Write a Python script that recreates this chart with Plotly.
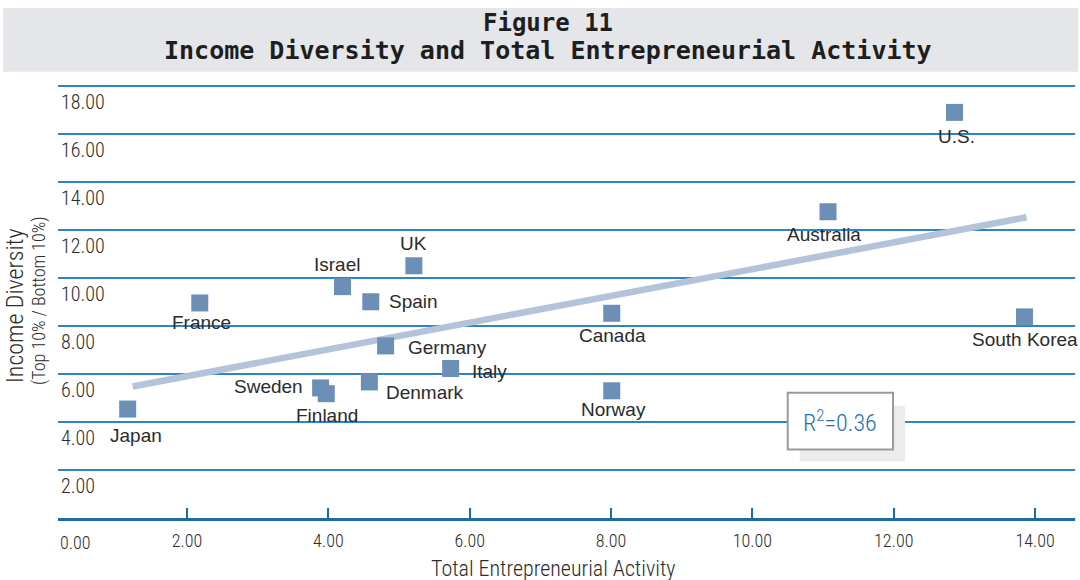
import plotly.graph_objects as go

# Data
countries = ["Japan", "France", "Israel", "UK", "Spain", "Germany", "Italy", "Sweden",
             "Finland", "Denmark", "Canada", "Norway", "Australia", "U.S.", "South Korea"]
tea = [1.16, 2.18, 4.20, 5.21, 4.60, 4.81, 5.73, 3.89,
       3.97, 4.58, 8.01, 8.01, 11.07, 12.86, 13.85]
income_div = [4.54, 8.96, 9.64, 10.51, 9.01, 7.17, 6.23, 5.42,
              5.18, 5.67, 8.53, 5.30, 12.76, 16.90, 8.38]
trend_x = [1.23, 13.88]
trend_y = [5.48, 12.53]
x_ticks = [2, 4, 6, 8, 10, 12, 14]
y_ticks = [2, 4, 6, 8, 10, 12, 14, 16, 18]
r_squared = 0.36

# Colours / fonts
_MARKER = "#6b8fb5"
_TREND = "#b4c3d9"
_GRID = "#3084bf"
_AXIS = "#1c6ca3"
_TEXT = "#2b2b2b"
_NARROW = "Roboto Condensed, Liberation Sans Narrow, Roboto, sans-serif"
_LABEL = "Liberation Sans, Arial, sans-serif"


def narrow(size, color=_TEXT):
    return dict(family=_NARROW, size=size, color=color, weight=300)


# label placement per country: (anchor, xshift, yshift)
label_pos = {
    "Japan": ("center", 8, -26), "France": ("center", 2, -20),
    "Israel": ("center", -6, 22), "UK": ("center", 0, 22),
    "Spain": ("left", 16, 0), "Germany": ("left", 20, -2),
    "Italy": ("left", 19, -3), "Sweden": ("right", -16, 1),
    "Finland": ("center", 1, -22), "Denmark": ("left", 15, -11),
    "Canada": ("center", 1, -22), "Norway": ("center", 2, -19),
    "Australia": ("center", -4, -23), "U.S.": ("center", 2, -24),
    "South Korea": ("center", 1, -23),
}

fig = go.Figure()

fig.add_trace(go.Scatter(
    x=trend_x, y=trend_y, mode="lines",
    line=dict(color=_TREND, width=6.5), hoverinfo="skip",
))
fig.add_trace(go.Scatter(
    x=tea, y=income_div, mode="markers", text=countries,
    marker=dict(symbol="square", size=17, color=_MARKER),
))

annotations = []
for name, xv, yv in zip(countries, tea, income_div):
    anchor, dx, dy = label_pos[name]
    annotations.append(dict(
        x=xv, y=yv, text=name, showarrow=False, xanchor=anchor, yanchor="middle",
        xshift=dx, yshift=dy, font=dict(family=_LABEL, size=19, color=_TEXT),
    ))

# title lines
annotations += [
    dict(xref="paper", yref="paper", x=0.5, y=1, xanchor="center", yanchor="middle",
         xshift=-19, yshift=61, text="<b>Figure 11</b>", showarrow=False,
         font=dict(family="DejaVu Sans Mono", size=24, color="#1e1e1e")),
    dict(xref="paper", yref="paper", x=0.5, y=1, xanchor="center", yanchor="middle",
         xshift=-19, yshift=34, showarrow=False,
         text="<b>Income Diversity and Total Entrepreneurial Activity</b>",
         font=dict(family="DejaVu Sans Mono", size=25, color="#1e1e1e")),
    # first x tick label sits at the axis start
    dict(xref="paper", yref="paper", x=0, y=0, xanchor="left", yanchor="top", yshift=-12,
         text="0.00", showarrow=False, font=narrow(18)),
    # axis titles
    dict(xref="paper", yref="paper", x=0.5, y=0, xanchor="center", yanchor="middle",
         xshift=-13, yshift=-50, text="Total Entrepreneurial Activity", showarrow=False,
         font=narrow(22)),
    dict(xref="paper", yref="paper", x=0, y=0.5, xanchor="center", yanchor="middle",
         xshift=-43, yshift=-5, textangle=-90, text="Income Diversity", showarrow=False,
         font=narrow(24)),
    dict(xref="paper", yref="paper", x=0, y=0.5, xanchor="center", yanchor="middle",
         xshift=-19, yshift=0, textangle=-90, text="(Top 10% / Bottom 10%)", showarrow=False,
         font=narrow(18)),
    # R squared box text
    dict(x=11.245, y=4.03, text=f"R<sup>2</sup>={r_squared:.2f}", showarrow=False,
         font=narrow(24, "#1f6fb0")),
]

shapes = [
    # grey title band
    dict(type="rect", xref="paper", yref="paper", x0=-0.054, x1=1.003, y0=1.028, y1=1.175,
         fillcolor="#e4e6e9", line=dict(width=0), layer="below"),
    # R squared box with shadow
    dict(type="rect", x0=10.67, x1=12.16, y0=2.35, y1=4.68,
         fillcolor="#ececec", line=dict(width=0), layer="above"),
    dict(type="rect", x0=10.50, x1=11.99, y0=2.85, y1=5.22,
         fillcolor="white", line=dict(color="#9a9a9a", width=2), layer="above"),
]

fig.update_layout(
    width=1080, height=580,
    margin=dict(l=58, r=5, t=84, b=62),
    plot_bgcolor="white", paper_bgcolor="white",
    showlegend=False,
    annotations=annotations,
    shapes=shapes,
)
fig.update_xaxes(
    range=[0.174, 14.565], tickvals=x_ticks, ticktext=[f"{v:.2f}" for v in x_ticks],
    showgrid=False, zeroline=False,
    showline=True, linecolor=_AXIS, linewidth=3,
    ticks="inside", ticklen=10, tickwidth=1.5, tickcolor=_AXIS,
    ticklabelstandoff=4,
    tickfont=narrow(18),
)
fig.update_yaxes(
    range=[0, 18.083], tickvals=y_ticks, ticktext=[f"{v:.2f}" for v in y_ticks],
    showgrid=True, gridcolor=_GRID, gridwidth=1.5, zeroline=False,
    showline=False, ticks="",
    ticklabelposition="inside", ticklabelshift=16,
    tickfont=narrow(20),
)

# drop the default page margin so the figure sits at the window's corner
fig.write_html("out.html", config={"displayModeBar": False},
               post_script="document.body.style.margin='0';")
